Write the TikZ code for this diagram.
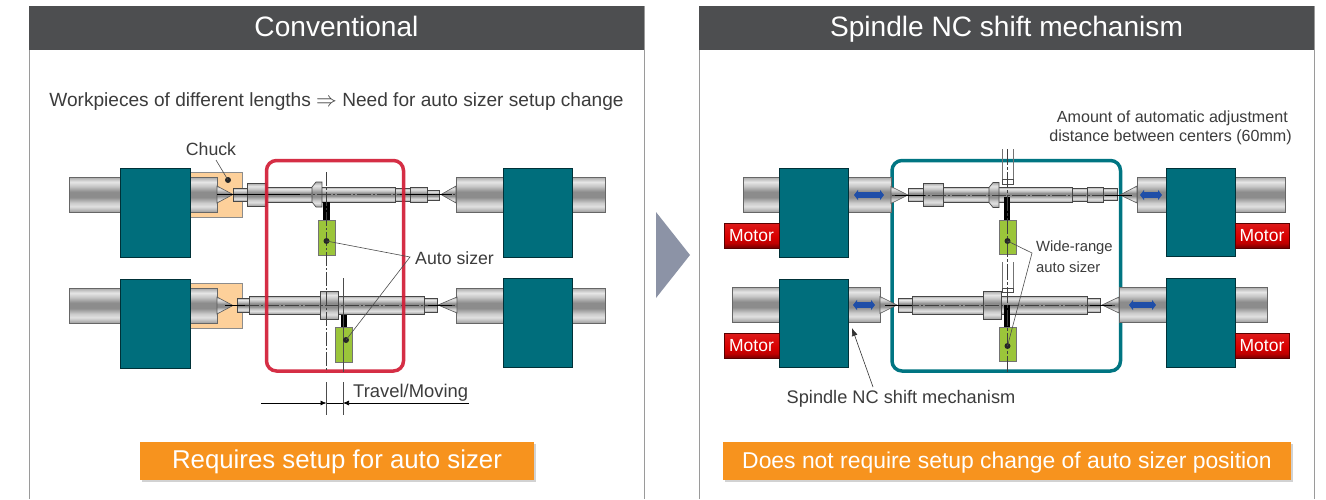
\documentclass[tikz,border=0pt]{standalone}
\usepackage{fontspec}
\setmainfont{Liberation Sans}
\usetikzlibrary{arrows.meta,shadows}
\definecolor{hdr}{HTML}{4D4E50}
\definecolor{edgeg}{HTML}{9A9A9A}
\definecolor{tealb}{HTML}{006E7C}
\definecolor{tealr}{HTML}{007582}
\definecolor{redr}{HTML}{D21F37}
\definecolor{chuckc}{HTML}{FDD09A}
\definecolor{sizer}{HTML}{9BC53A}
\definecolor{banner}{HTML}{F7931E}
\definecolor{bluea}{HTML}{1F4EA8}
\definecolor{txt}{HTML}{3C3C3C}
\definecolor{chev}{HTML}{8C93A6}
\pgfdeclareverticalshading{cylshade}{100bp}{
 color(0bp)=(black!38); color(25bp)=(black!38); color(33bp)=(black!12);
 color(38bp)=(black!20); color(46bp)=(black!45); color(54bp)=(black!45);
 color(62bp)=(black!22); color(68bp)=(black!10); color(75bp)=(black!35); color(100bp)=(black!35)}
\pgfdeclareverticalshading{motorshade}{100bp}{
 color(0bp)=(red!45!black); color(25bp)=(red!45!black); color(35bp)=(red!75!black);
 color(48bp)=(red!85!black); color(75bp)=(red!85!black!90!white); color(100bp)=(red!85!black)}
\tikzset{
 x=1pt,y=-1pt,
 cylp/.style={shading=cylshade,draw=black!60,line width=.7pt},
 wkp/.style={shading=cylshade,draw=black!72,line width=.7pt},
 tealbox/.style={fill=tealb,draw=black!55!tealb,line width=.6pt},
 conep/.style={shading=cylshade,draw=black!65,line width=.6pt},
 cline/.style={draw=black!75,line width=.6pt,dash pattern=on 14pt off 2pt on 2pt off 2pt},
 thin line/.style={draw=black!70,line width=.6pt},
 leader/.style={draw=black!70,line width=.6pt},
 labelt/.style={text=txt,font=\fontsize{17.7}{20}\selectfont,inner sep=0pt},
 motorbox/.style={shading=motorshade,draw=red!35!black,line width=.5pt,text=white,
   font=\fontsize{17.5}{20}\selectfont,minimum width=55pt,minimum height=25pt,inner sep=0pt},
 bannerbox/.style={fill=banner,text=white,inner sep=0pt,minimum height=38pt,text height=18pt,text depth=4pt,
   drop shadow={shadow xshift=1.5pt,shadow yshift=-1.5pt,opacity=.35}},
 hdrbox/.style={fill=hdr,text=white,inner sep=0pt,minimum width=615pt,minimum height=44pt,
   text height=20pt,text depth=3pt,font=\fontsize{28.1}{32}\selectfont},
 sizerbox/.style={fill=sizer,draw=black!55,line width=.5pt},
 post/.style={fill=black},
 movearrow/.style={draw=bluea,line width=5.5pt,{Triangle[length=4pt,width=10pt]}-{Triangle[length=4pt,width=10pt]}},
 dimarrow/.style={draw=black,line width=.7pt,-{Latex[length=6pt,width=5pt]}},
}
\newcommand{\Cyl}[4]{\path[cylp] (#1,#2) rectangle (#3,#4);}
\newcommand{\Wk}[4]{\path[wkp] (#1,#2) rectangle (#3,#4);}
\newcommand{\Teal}[4]{\path[tealbox] (#1,#2) rectangle (#3,#4);}
\newcommand{\ConeR}[3]{\path[conep] (#1,#2-8.5) -- (#3,#2) -- (#1,#2+8.5) -- cycle;}
\newcommand{\Flange}[2]{\path[wkp] (#1,#2-7.5) -- (#1+4,#2-12.5) -- (#1+10,#2-12.5) -- (#1+10,#2+12.5) -- (#1+4,#2+12.5) -- (#1,#2+7.5) -- cycle;}
\newcommand{\Dot}[2]{\fill[black!85] (#1,#2) circle (3pt);}
\begin{document}
\begin{tikzpicture}
\useasboundingbox (0,0) rectangle (1326,499);
\fill[white] (0,0) rectangle (1326,499);
% panels
\draw[edgeg,line width=.9pt] (29,6) -- (29,499) (644,6) -- (644,499) (699,6) -- (699,499) (1314,6) -- (1314,499);
\node[hdrbox] (h1) at (336.5,28) {Conventional};
\node[hdrbox] (h2) at (1006.5,28) {Spindle NC shift mechanism};
\node[labelt,font=\fontsize{19.1}{22}\selectfont] (sub) at (336.5,101.5) {Workpieces of different lengths $\Rightarrow$ Need for auto sizer setup change};
% chevron
\fill[chev] (656,212) -- (690,255) -- (656,298) -- cycle;

% ---------- LEFT PANEL
\fill[chuckc,draw=black!45,line width=.5pt] (190,172) rectangle (242,217);
\fill[chuckc,draw=black!45,line width=.5pt] (190,283) rectangle (242,328);
\Cyl{69}{177}{120}{212}\Cyl{190}{177}{217}{212}
\Cyl{69}{288}{120}{323}\Cyl{190}{288}{217}{323}
\Cyl{456}{177}{503}{212}\Cyl{572}{177}{605}{212}
\Cyl{456}{288}{503}{323}\Cyl{572}{288}{605}{323}
\Teal{120.5}{168}{190}{257}\Teal{120.5}{279}{190}{368}
\Teal{503}{168}{572}{257}\Teal{503}{278}{572}{367}
% cones
\ConeR{217}{194.5}{233}\ConeR{217}{305.5}{233}
\path[conep] (456,186) -- (441,194.5) -- (456,203) -- cycle;
\path[conep] (457,297) -- (438,305) -- (457,313) -- cycle;
% top workpiece
\Wk{233}{188}{247}{201}\Wk{247}{183}{266}{206}\Wk{266}{187}{395}{202}
\Flange{312}{194.5}
\Wk{395}{188}{410}{201}\Wk{410}{187}{427}{202}\Wk{427}{190}{439}{200}
% lower workpiece
\Wk{237}{298}{249}{312}\Wk{249}{296}{320}{314}\Wk{338}{296}{424}{314}\Wk{424}{298}{437}{312}\Wk{320}{291}{338}{319}
% axial lines
\draw[cline] (217,194.5) -- (455,194.5);
\draw[cline] (225,305) -- (455,305);
\draw[draw=black,line width=.7pt] (217,194.5) -- (300,194.5) (400,194.5) -- (452,194.5) (225,305) -- (245,305) (428,305) -- (452,305);
% sizers
\fill[post] (323,202) rectangle (329.5,220);
\path[sizerbox] (318,220) rectangle (335,255);
\fill[post] (341,315) rectangle (347,327);
\path[sizerbox] (335,327) rectangle (352,362);
% red box
\draw[redr,line width=3.5pt,rounded corners=10pt,opacity=.93] (266.5,160.5) rectangle (403.5,371);
% vertical lines
\draw[cline] (326.5,172) -- (326.5,372);
\draw[thin line] (326.5,382) -- (326.5,415);
\draw[thin line] (343,278) -- (343,372) (343,382) -- (343,415);
% dimension
\coordinate (dimLa) at (261,403); \coordinate (dimLb) at (326.5,403);
\coordinate (dimRa) at (469,403); \coordinate (dimRb) at (343,403);
\draw[dimarrow] (dimLa) -- (dimLb);
\draw[dimarrow] (dimRa) -- (dimRb);
\draw[draw=black,line width=.7pt] (dimLb) -- (dimRb);
\node[labelt,anchor=west,font=\fontsize{18.4}{20}\selectfont] (travel) at (353,393) {Travel/Moving};
% labels
\coordinate (chuckdot) at (228,180);
\coordinate (sizA) at (326.5,241);
\coordinate (sizB) at (346,340);
\coordinate (sizJ) at (410,257);
\Dot{228}{180}\Dot{326.5}{241}\Dot{346}{340}
\node[labelt] (chuck) at (211,149.5) {Chuck};
\coordinate (chucktail) at (216,160);
\draw[leader] (chucktail) -- (chuckdot);
\node[labelt,anchor=west] (autosizer) at (415,258) {Auto sizer};
\draw[leader] (sizA) -- (sizJ) -- (sizB);
\node[bannerbox,minimum width=394pt,font=\fontsize{25.8}{28}\selectfont] (b1) at (337,461) {Requires setup for auto sizer};

% ---------- RIGHT PANEL
\draw[tealr,line width=3.5pt,rounded corners=10pt] (892,160.5) rectangle (1120.5,371);
\Cyl{743}{177}{779}{212}\Cyl{848}{177}{891}{212}
\Cyl{1137}{177}{1166}{212}\Cyl{1235}{177}{1285}{212}
\Cyl{732}{287}{779}{322}\Cyl{848}{287}{880}{322}
\Cyl{1119}{287}{1166}{322}\Cyl{1235}{287}{1267}{322}
\Teal{779}{168}{848}{257}\Teal{779}{279}{848}{367}
\Teal{1166}{168}{1235}{256}\Teal{1166}{278}{1235}{367}
\node[motorbox] (m1) at (751.5,235.5) {Motor};
\node[motorbox] (m2) at (751.5,346) {Motor};
\node[motorbox,minimum width=54pt] (m3) at (1262,235.5) {Motor};
\node[motorbox,minimum width=54pt] (m4) at (1262,346) {Motor};
% cones
\ConeR{891}{195}{908}\ConeR{880}{305}{897}
\path[conep] (1137,186) -- (1120,195) -- (1137,203) -- cycle;
\path[conep] (1119,297) -- (1102,305) -- (1119,313) -- cycle;
% top workpiece
\Wk{908}{188}{923}{201}\Wk{923}{183}{943}{206}\Wk{943}{187}{1072}{202}
\Flange{989}{195}
\Wk{1072}{188}{1087}{201}\Wk{1087}{187}{1103}{202}\Wk{1103}{188}{1117}{200}
% lower workpiece
\Wk{898}{298}{912}{312}\Wk{912}{296}{983}{314}\Wk{1001}{296}{1087}{314}\Wk{1087}{298}{1100}{312}\Wk{983}{291}{1001}{319}
\draw[cline] (892,195) -- (1130,195);
\draw[cline] (885,305) -- (1115,305);
\draw[draw=black,line width=.7pt] (895,195) -- (925,195) (1105,195) -- (1132,195) (885,305) -- (912,305) (1090,305) -- (1112,305);
% moving arrows
\draw[movearrow] (854,195) -- (884,195);
\draw[movearrow] (853,305) -- (875,305);
\draw[movearrow] (1140,195) -- (1162,195);
\draw[movearrow] (1129,305) -- (1156,305);
% sizers
\fill[post] (1004,197) rectangle (1010,220);
\path[sizerbox] (999,220) rectangle (1016,254);
\fill[post] (1004,305) rectangle (1010,327);
\path[sizerbox] (999,327) rectangle (1016,361);
% sizer guides
\draw[thin line,black!55] (1002,149) -- (1002,179) (1013,149) -- (1013,179) (1002,262) -- (1002,288) (1013,262) -- (1013,288);
\draw[thin line,fill=white] (1002,179) rectangle (1013,184);
\draw[thin line,fill=white] (1002,288) rectangle (1013,292.5);
\draw[cline,dash pattern=on 16pt off 2pt on 3pt off 2pt] (1007.5,149) -- (1007.5,372);
% labels
\coordinate (wdotA) at (1007.5,241);
\coordinate (wdotB) at (1007.5,346);
\coordinate (wJ) at (1032,253);
\Dot{1007.5}{241}\Dot{1007.5}{346}
\draw[leader] (wdotA) -- (wJ) -- (wdotB);
\node[labelt,anchor=west,font=\fontsize{14.8}{16}\selectfont] (wide1) at (1036,248) {Wide-range};
\node[labelt,anchor=west,font=\fontsize{14.8}{16}\selectfont] (wide2) at (1036,267) {auto sizer};
\node[labelt,anchor=east,font=\fontsize{16.1}{18}\selectfont] (am1) at (1288,118) {Amount of automatic adjustment};
\node[labelt,anchor=east,font=\fontsize{16.1}{18}\selectfont] (am2) at (1292,137) {distance between centers (60mm)};
\node[labelt,font=\fontsize{18.2}{20}\selectfont] (snc) at (901,398.5) {Spindle NC shift mechanism};
\coordinate (sncT) at (873,387);
\coordinate (sncH) at (852,328);
\draw[leader,-{Latex[length=8pt,width=6pt]},draw=black!80] (sncT) -- (sncH);
\node[bannerbox,minimum width=568pt,font=\fontsize{22.9}{26}\selectfont] (b2) at (1007,461) {Does not require setup change of auto sizer position};
\end{tikzpicture}
\end{document}
